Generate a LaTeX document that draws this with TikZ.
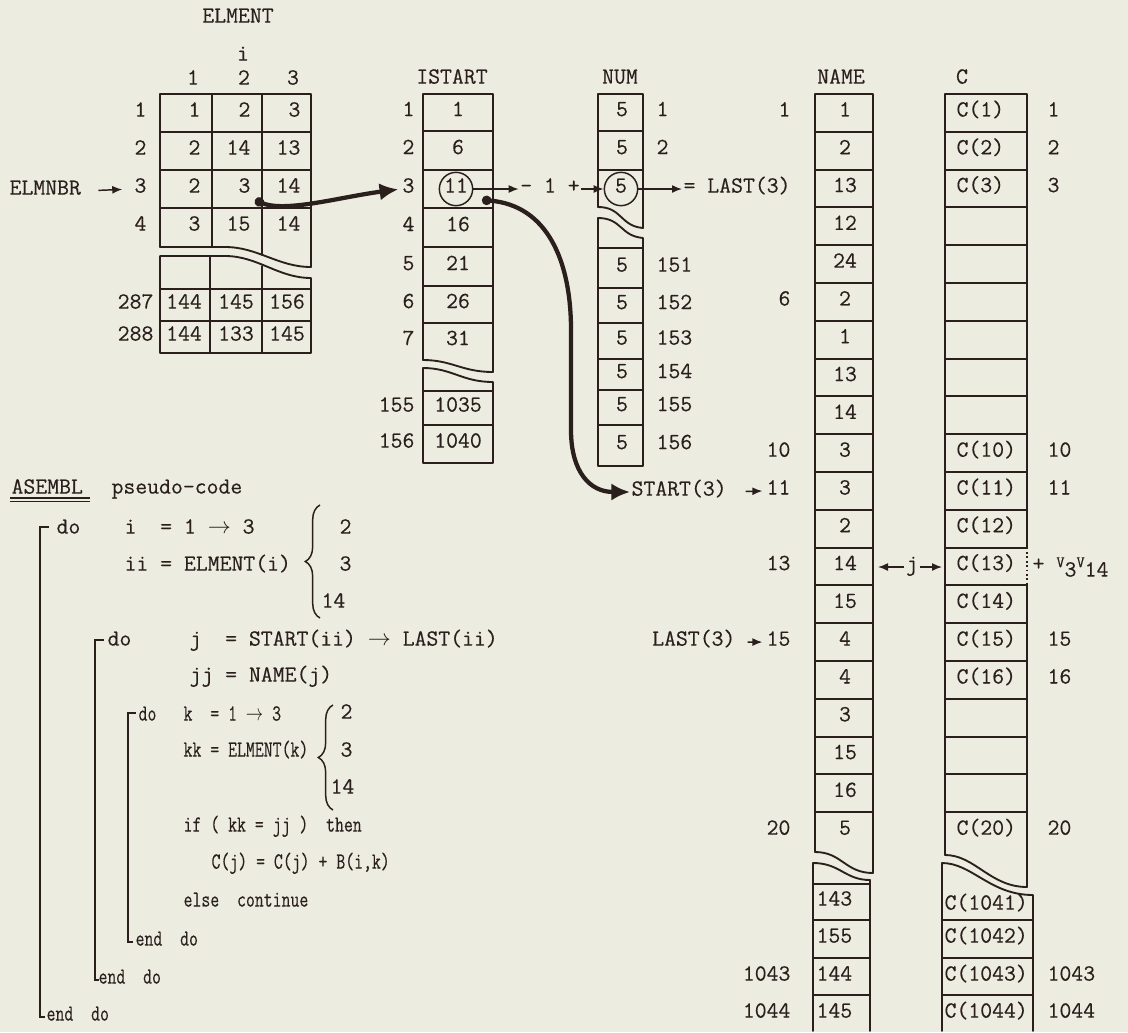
\documentclass[tikz,border=0pt]{standalone}
\usepackage{fontspec}
\setmonofont{Latin Modern Mono}[FakeBold=0.35]
\usepackage{graphicx}
\usetikzlibrary{arrows.meta,decorations.pathreplacing}
\definecolor{paper}{RGB}{236,236,225}
\definecolor{ink}{RGB}{42,31,28}
\newcommand{\cnd}[1]{\scalebox{0.75}[1]{#1}}
\begin{document}
\begin{tikzpicture}[x=0.75pt,y=-0.75pt,
  font=\fontsize{17.3}{20}\selectfont\ttfamily,
  color=ink,
  every node/.style={inner sep=1pt, text height=1.6ex, text depth=0.35ex},
  tbl/.style={line width=1.4pt, line join=round, line cap=round},
  arr/.style={line width=1.1pt, -{Latex[length=7.5pt,width=6pt]}},
  bigarr/.style={line width=3.2pt, {Circle[length=7pt]}-{Latex[length=14pt,width=13pt]}},
  brk/.style={line width=1.2pt},
  brc/.style={line width=1.1pt, decorate, decoration={brace, amplitude=11pt}},
  circ/.style={circle, draw, line width=1.1pt, inner sep=0pt, minimum size=25pt}
]
\fill[paper] (0,0) rectangle (1128,1032);
\useasboundingbox (0,0) rectangle (1128,1032);

% ================= ELMENT =================
\node (elmT) at (238,19) {ELMENT};
\node (elmI) at (243,57) {i};
\node (h1) at (193,81) {1};
\node (h2) at (244,81) {2};
\node (h3) at (293,81) {3};
% upper piece
\draw[tbl] (160,247) -- (160,94) -- (311,94) -- (311,267);
\draw[tbl] (160,247) -- (225,247) .. controls (258,247) and (278,267) .. (311,267);
\foreach \y in {132,170,208} \draw[tbl] (160,\y) -- (311,\y);
\draw[tbl] (212,94) -- (212,247);
\draw[tbl] (262,94) -- (262,255);
% lower piece
\draw[tbl] (311,278) -- (311,353) -- (160,353) -- (160,256) -- (225,256) .. controls (258,256) and (278,278) .. (311,278);
\foreach \y in {289,321} \draw[tbl] (160,\y) -- (311,\y);
\draw[tbl] (210,256) -- (210,353);
\draw[tbl] (262,266) -- (262,353);
% values
\foreach \r/\y/\a/\b/\c in {1/113/1/2/3, 2/151/2/14/13, 3/189/2/3/14, 4/227/3/15/14} {
  \node[anchor=east] (er\r) at (148,\y) {\r};
  \node[anchor=east] (e\r-1) at (202,\y) {\a};
  \node[anchor=east] (e\r-2) at (252,\y) {\b};
  \node[anchor=east] (e\r-3) at (302,\y) {\c};
}
\foreach \r/\y/\a/\b/\c in {287/305/144/145/156, 288/337/144/133/145} {
  \node[anchor=east] (er\r) at (155,\y) {\r};
  \node (e\r-1) at (184,\y) {\a};
  \node (e\r-2) at (236,\y) {\b};
  \node (e\r-3) at (287,\y) {\c};
}
\node[anchor=west] (elmnbr) at (8,191) {ELMNBR};
\draw[arr, shorten <=12pt, shorten >=8pt] (elmnbr.east) -- (er3.west);

% ================= ISTART =================
\node (isT) at (452,80) {ISTART};
\draw[tbl] (423,360) -- (423,94) -- (493,94) -- (493,372);
\draw[tbl] (423,360) .. controls (452,360) and (462,372) .. (493,372);
\foreach \y in {131,170,208,247,286,323} \draw[tbl] (423,\y) -- (493,\y);
\draw[tbl] (493,382) -- (493,463) -- (423,463) -- (423,368) .. controls (452,368) and (462,382) .. (493,382);
\draw[tbl] (423,391) -- (493,391);
\draw[tbl] (423,425) -- (493,425);
\foreach \r/\y/\v in {1/112.5/1, 2/150.5/6, 4/227.5/16, 5/266.5/21, 6/304.5/26, 7/341.5/31, 155/408/1035, 156/444/1040} {
  \node[anchor=east] (ir\r) at (416,\y) {\r};
  \node (is\r) at (458,\y) {\v};
}
\node[anchor=east] (ir3) at (416,189) {3};
\node[circ] (is3) at (456,189) {11};

% ================= NUM =================
\node (numT) at (620,80) {NUM};
\draw[tbl] (598,207) -- (598,94) -- (643,94) -- (643,228);
\draw[tbl] (598,207) .. controls (622,207) and (620,226) .. (643,228);
\draw[tbl] (598,131) -- (643,131);
\draw[tbl] (598,170) -- (643,170);
\draw[tbl] (643,238) -- (643,466) -- (598,466) -- (598,218) .. controls (622,218) and (620,236) .. (643,238);
\foreach \y in {248,288,323,359,390,425} \draw[tbl] (598,\y) -- (643,\y);
\foreach \r/\y in {1/112.5, 2/150.5, 151/268, 152/305.5, 153/341, 154/374.5, 155/407.5, 156/445.5} {
  \node (nu\r) at (622,\y) {5};
  \node[anchor=west] (nr\r) at (655,\y) {\r};
}
\node[circ] (nu3) at (621,189) {5};

% chain along row 3
\node (m1) at (550,189) {- 1 +};
\draw[arr] (is3) -- (m1);
\draw[arr] (m1) -- (nu3);
\node[anchor=west] (eqlast) at (682,189) {= LAST(3)};
\draw[arr] (nu3) -- (eqlast);

% ================= NAME =================
\node (nameT) at (841,80) {NAME};
\draw[tbl] (815,852) -- (815,94) -- (873,94) -- (873,873);
\draw[tbl] (815,852) .. controls (842,852) and (845,873) .. (873,873);
\foreach \r in {1,...,19} \draw[tbl] (815,{94+37.8*\r}) -- (873,{94+37.8*\r});
\draw[tbl] (870,1031) -- (870,880);
\draw[tbl] (813,1031) -- (813,863) .. controls (840,863) and (845,880) .. (870,880);
\foreach \y in {884,920,958,995} \draw[tbl] (813,\y) -- (870,\y);
\foreach \v [count=\r] in {1,2,13,12,24,2,1,13,14,3,3,2,14,15,4,4,3,15,16,5}
  \node (nv\r) at (845,{94+37.8*(\r-0.5)}) {\v};
\node[anchor=west] (nvL1) at (815,902) {143};
\node[anchor=west] (nvL2) at (815,939) {155};
\node[anchor=west] (nvL3) at (815,977) {144};
\node[anchor=west] (nvL4) at (815,1014) {145};
\foreach \r in {1,6,10,11,13,15,20}
  \node[anchor=east] (nl\r) at (792,{94+37.8*(\r-0.5)}) {\r};
\node[anchor=east] (nl1043) at (792,977) {1043};
\node[anchor=east] (nl1044) at (792,1014) {1044};

% curved pointers
\coordinate (d1) at (255,200);
\draw[bigarr, shorten >=2pt] (d1) .. controls (285,213) and (340,197) .. (ir3.west);
\node[anchor=west] (start3) at (630,492) {START(3)};
\coordinate (d2) at (482,200);
\draw[bigarr] (d2) .. controls (548,205) and (571,262) .. (571,330) -- (571,430)
   .. controls (571,472) and (590,492) .. (start3.west);
\draw[arr, shorten <=13pt, shorten >=2pt] (start3.east) -- (nl11.west);
\node[anchor=east] (last3b) at (737,642) {LAST(3)};
\draw[arr, shorten <=8pt, shorten >=2pt] (last3b.east) -- (nl15.west);

% ================= C =================
\node (cT) at (962,80) {C};
\draw[tbl] (945,855) -- (945,94) -- (1027,94) -- (1027,547.6);
\draw[tbl] (1027,585.4) -- (1027,887);
\draw[line width=1.3pt, dotted] (1027,547.6) -- (1027,585.4);
\draw[tbl] (945,855) .. controls (975,855) and (990,887) .. (1027,887);
\foreach \r in {1,...,19} \draw[tbl] (945,{94+37.8*\r}) -- (1027,{94+37.8*\r});
\draw[tbl] (942,1031) -- (942,863) .. controls (972,863) and (990,895) .. (1033,895) -- (1033,1031);
\foreach \y in {920,958,995} \draw[tbl] (942,\y) -- (1033,\y);
\foreach \r in {1,2,3,10,11,12,13,14,15,16,20}
  \node[anchor=west] (cv\r) at (955,{94+37.8*(\r-0.5)}) {C(\r)};
\node[anchor=west] (cv1041) at (943,906) {C(1041)};
\node[anchor=west] (cv1042) at (943,939) {C(1042)};
\node[anchor=west] (cv1043) at (943,977) {C(1043)};
\node[anchor=west] (cv1044) at (943,1014) {C(1044)};
\foreach \r in {1,2,3,10,11,15,16,20}
  \node[anchor=west] (cl\r) at (1046,{94+37.8*(\r-0.5)}) {\r};
\node[anchor=west] (cl1043) at (1046,977) {1043};
\node[anchor=west] (cl1044) at (1046,1014) {1044};

% row 13 annotations
\node (jj13) at (912,567) {j};
\coordinate (nmR) at (878,567);
\coordinate (cL) at (942,567);
\draw[arr] (jj13) -- (nmR);
\draw[arr] (jj13) -- (cL);
\node[anchor=west] (vv) at (1031,567) {+ \raisebox{.35ex}{\fontsize{12}{12}\selectfont V}\raisebox{-.6ex}{3}\raisebox{.35ex}{\fontsize{12}{12}\selectfont V}\raisebox{-.6ex}{14}};

% ================= pseudo-code =================
\node[anchor=west] (asm) at (10,490) {ASEMBL};
\draw[line width=1.1pt] (10,498) -- (90,498);
\draw[line width=1.1pt] (10,501.5) -- (90,501.5);
\node[anchor=west] (pc) at (110,490) {pseudo-code};

\node[anchor=west] (do1) at (55,530) {do};
\node[anchor=west] (l1) at (123,530) {i~~= 1 $\rightarrow$ 3};
\node[anchor=west] (l2) at (123,567) {ii = ELMENT(i)};
\draw[brc] (320,618) -- (320,505);
\node[anchor=west] (b1a) at (338,530) {2};
\node[anchor=west] (b1b) at (338,567) {3};
\node[anchor=west] (b1c) at (320,604) {14};

\node[anchor=west] (do2) at (106,642) {do};
\node[anchor=west] (l3) at (188,642) {j~~= START(ii) $\rightarrow$ LAST(ii)};
\node[anchor=west] (l4) at (188,678) {jj = NAME(j)};

\node[anchor=west] (do3) at (137,717) {\cnd{do}};
\node[anchor=west] (l5) at (182,717) {\cnd{k~~= 1 $\rightarrow$ 3}};
\node[anchor=west] (l6) at (182,753) {\cnd{kk = ELMENT(k)}};
\draw[brc] (333,810) -- (333,705);
\node[anchor=west] (b2a) at (339,715) {2};
\node[anchor=west] (b2b) at (339,753) {3};
\node[anchor=west] (b2c) at (329,790) {14};
\node[anchor=west] (l7) at (182,828) {\cnd{if ( kk = jj )~~then}};
\node[anchor=west] (l8) at (210,865) {\cnd{C(j) = C(j) + B(i,k)}};
\node[anchor=west] (l9) at (182,903) {\cnd{else~~continue}};
\node[anchor=west] (end3) at (134,942) {\cnd{end~~do}};
\node[anchor=west] (end2) at (97,980) {\cnd{end~~do}};
\node[anchor=west] (end1) at (45,1017) {\cnd{end~~do}};

% loop brackets
\draw[brk] (49,527) -- (40,527) -- (40,1017) -- (45,1017);
\draw[brk] (104,640) -- (95,640) -- (95,980) -- (99,980);
\draw[brk] (136,713) -- (128,713) -- (128,942) -- (133,942);
\end{tikzpicture}
\end{document}
